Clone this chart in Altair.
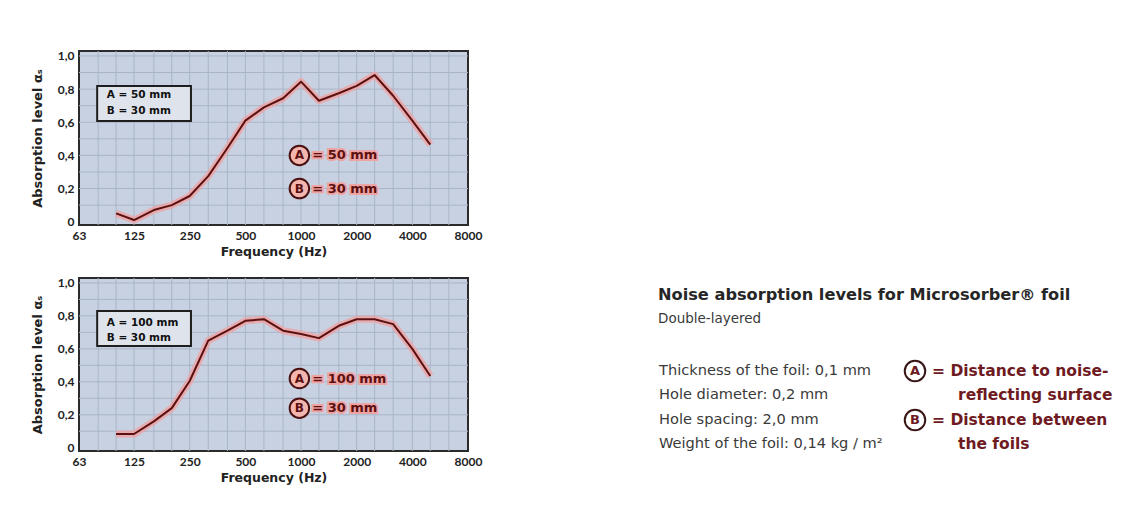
import altair as alt
import pandas as pd

# ---------------- data ----------------
freq = [100, 125, 160, 200, 250, 315, 400, 500, 630, 800, 1000, 1250, 1600, 2000, 2500, 3150, 4000, 5000]
alpha_top = [0.05, 0.01, 0.07, 0.10, 0.155, 0.275, 0.445, 0.61, 0.69, 0.745, 0.845, 0.73, 0.775, 0.82, 0.885, 0.76, 0.61, 0.465]
alpha_bottom = [0.083, 0.083, 0.16, 0.24, 0.405, 0.65, 0.71, 0.77, 0.78, 0.71, 0.69, 0.665, 0.74, 0.78, 0.78, 0.75, 0.60, 0.435]

x_ticks = [63, 125, 250, 500, 1000, 2000, 4000, 8000]
y_ticks = [0, 0.2, 0.4, 0.6, 0.8, 1.0]
grid_freqs = [80, 100, 125, 160, 200, 250, 315, 400, 500, 630, 800, 1000, 1250, 1600, 2000, 2500, 3150, 4000, 5000, 6300]
grid_levels = [0.1, 0.2, 0.3, 0.4, 0.5, 0.6, 0.7, 0.8, 0.9, 1.0]

top_box_lines = ["A  = 50 mm", "B  = 30 mm"]
bottom_box_lines = ["A  = 100 mm", "B  =  30 mm"]
top_circle_text = ["= 50 mm", "= 30 mm"]
bottom_circle_text = ["= 100 mm", "= 30 mm"]
circle_letters = ["A", "B"]

title_text = "Noise absorption levels for Microsorber\u00ae foil"
subtitle_text = "Double-layered"
spec_lines = ["Thickness of the foil: 0,1 mm", "Hole diameter: 0,2 mm",
              "Hole spacing: 2,0 mm", "Weight of the foil: 0,14 kg / m\u00b2"]
legend_lines = ["= Distance to noise-", "reflecting surface", "= Distance between", "the foils"]

# ---------------- style ----------------
FONT = "Lato"
TFONT = "DejaVu Sans"
PLOT_W = 389
BG = "#c8d1e1"
GRID = "#a9b5c8"
FRAME = "#2b2b2b"
DARKRED = "#5c1010"
TEXTRED = "#6e1a1f"
HALO = "#eea3a3"
X_TITLE = "Frequency (Hz)"
Y_TITLE = "Absorption level \u03b1\u209b"

xs = alt.Scale(type="log", domain=[63, 8000], nice=False)
ys = alt.Scale(domain=[-0.02, 1.03], nice=False, zero=False)

x_axis = alt.Axis(
    values=x_ticks, format="d", grid=False, ticks=False, domain=False, labelFlush=False,
    labelOverlap=False, labelFont=FONT, labelFontWeight="bold", labelFontSize=12,
    labelColor="#222", labelPadding=5, titleFont=TFONT,
    titleFontSize=12.5, titleFontWeight="bold", titleColor="#222", titlePadding=4)
y_axis = alt.Axis(
    values=y_ticks, grid=False, ticks=False, domain=False, labelFont=FONT,
    labelOverlap=False, labelFlush=False,
    labelFontWeight="bold", labelFontSize=12, labelColor="#222", labelPadding=5,
    labelExpr="datum.value == 0 ? '0' : replace(format(datum.value, '.1f'), '.', ',')",
    titleFont=TFONT, titleFontSize=13,
    titleFontWeight="bold", titleColor="#222", titlePadding=13)


def X(fld):
    return alt.X(fld, scale=xs, axis=x_axis, title=X_TITLE)


def Y(fld):
    return alt.Y(fld, scale=ys, axis=y_axis, title=Y_TITLE)


def panel(values, box_lines, box_y, box_text_y, circ_y, circ_text, height):
    df = pd.DataFrame({"f": freq, "a": values})
    gx = pd.DataFrame({"f": grid_freqs})
    gy = pd.DataFrame({"a": grid_levels})

    vgrid = alt.Chart(gx).mark_rule(color=GRID, strokeWidth=1).encode(x=X("f:Q"))
    hgrid = alt.Chart(gy).mark_rule(color=GRID, strokeWidth=1).encode(y=Y("a:Q"))

    base = alt.Chart(df)
    halo = base.mark_line(color=HALO, strokeWidth=7, opacity=0.8, strokeJoin="round").encode(
        x=X("f:Q"), y=Y("a:Q"))
    line = base.mark_line(color=DARKRED, strokeWidth=2, strokeJoin="round").encode(
        x=X("f:Q"), y=Y("a:Q"))

    box_df = pd.DataFrame({"f": [79], "f2": [254], "a": [box_y[0]], "a2": [box_y[1]]})
    box = alt.Chart(box_df).mark_rect(fill="#dfe4ec", stroke="#1e1e1e", strokeWidth=2).encode(
        x=X("f:Q"), x2="f2:Q", y=Y("a:Q"), y2="a2:Q")
    bt_df = pd.DataFrame({"f": [89, 89], "a": box_text_y, "t": box_lines})
    box_text = alt.Chart(bt_df).mark_text(align="left", baseline="middle", font=TFONT,
                                          fontWeight="bold", fontSize=10.5, color="#111").encode(
        x=X("f:Q"), y=Y("a:Q"), text="t:N")

    c_df = pd.DataFrame({"f": [980, 980], "a": circ_y, "t": circle_letters})
    circles = alt.Chart(c_df).mark_circle(size=380, color="#f3b6ae", opacity=1,
                                          stroke="#4a1010", strokeWidth=2).encode(
        x=X("f:Q"), y=Y("a:Q"))
    letters = alt.Chart(c_df).mark_text(font=TFONT, fontWeight="bold", fontSize=12,
                                        color=DARKRED, baseline="middle").encode(
        x=X("f:Q"), y=Y("a:Q"), text="t:N")
    ct_df = pd.DataFrame({"f": [1150, 1150], "a": circ_y, "t": circ_text})
    ct_halo = alt.Chart(ct_df).mark_text(align="left", baseline="middle", font=TFONT,
                                         fontWeight="bold", fontSize=13, color=HALO,
                                         stroke=HALO, strokeWidth=4).encode(
        x=X("f:Q"), y=Y("a:Q"), text="t:N")
    ct = alt.Chart(ct_df).mark_text(align="left", baseline="middle", font=TFONT,
                                    fontWeight="bold", fontSize=13, color=DARKRED).encode(
        x=X("f:Q"), y=Y("a:Q"), text="t:N")

    return alt.layer(vgrid, hgrid, halo, line, box, box_text, ct_halo, ct, circles, letters).properties(
        width=PLOT_W, height=height,
        view=alt.ViewBackground(fill=BG, stroke=FRAME, strokeWidth=2))


top = panel(alpha_top, top_box_lines, [0.819, 0.608], [0.765, 0.668], [0.40, 0.20], top_circle_text, 174)
bottom = panel(alpha_bottom, bottom_box_lines, [0.83, 0.617], [0.757, 0.666], [0.42, 0.24], bottom_circle_text, 173)

# ---------------- right-hand text panel ----------------
PW, PH = 480, 402
px = alt.Scale(domain=[0, PW], nice=False)
py = alt.Scale(domain=[0, PH], nice=False, reverse=True)


def txt(df, **kw):
    return alt.Chart(df).mark_text(align="left", baseline="middle", font=TFONT, **kw).encode(
        x=alt.X("x:Q", scale=px, axis=None), y=alt.Y("y:Q", scale=py, axis=None), text="t:N")


rows_y = [320, 344, 369, 393]
t_title = txt(pd.DataFrame({"x": [18], "y": [244], "t": [title_text]}),
              fontSize=16.2, fontWeight="bold", color="#262626")
t_sub = txt(pd.DataFrame({"x": [18], "y": [268], "t": [subtitle_text]}),
            fontSize=13.5, color="#3a3a3a")
t_specs = txt(pd.DataFrame({"x": [19] * 4, "y": rows_y, "t": spec_lines}),
              fontSize=14.6, color="#3a3a3a")
t_leg = txt(pd.DataFrame({"x": [292, 318, 292, 318], "y": rows_y, "t": legend_lines}),
            fontSize=15.5, fontWeight="bold", color=TEXTRED)
circ_df = pd.DataFrame({"x": [275, 275], "y": [rows_y[0], rows_y[2]], "t": circle_letters})
t_circ = alt.Chart(circ_df).mark_point(shape="circle", size=420, filled=False,
                                       color="#3a1515", strokeWidth=2, opacity=1).encode(
    x=alt.X("x:Q", scale=px, axis=None), y=alt.Y("y:Q", scale=py, axis=None))
t_circ_l = alt.Chart(circ_df).mark_text(font=TFONT, fontWeight="bold", fontSize=13,
                                        color=TEXTRED, baseline="middle").encode(
    x=alt.X("x:Q", scale=px, axis=None), y=alt.Y("y:Q", scale=py, axis=None), text="t:N")

right = alt.layer(t_title, t_sub, t_specs, t_leg, t_circ, t_circ_l).properties(
    width=PW, height=PH,
    view=alt.ViewBackground(fill="transparent", stroke="transparent"))

left = alt.vconcat(top, bottom, spacing=16)
chart = alt.hconcat(left, right, spacing=156).properties(
    padding={"top": 40, "left": 22, "right": 5, "bottom": 5},
    background="white")

chart.save("out.html", embed_options={"renderer": "svg", "actions": False})
